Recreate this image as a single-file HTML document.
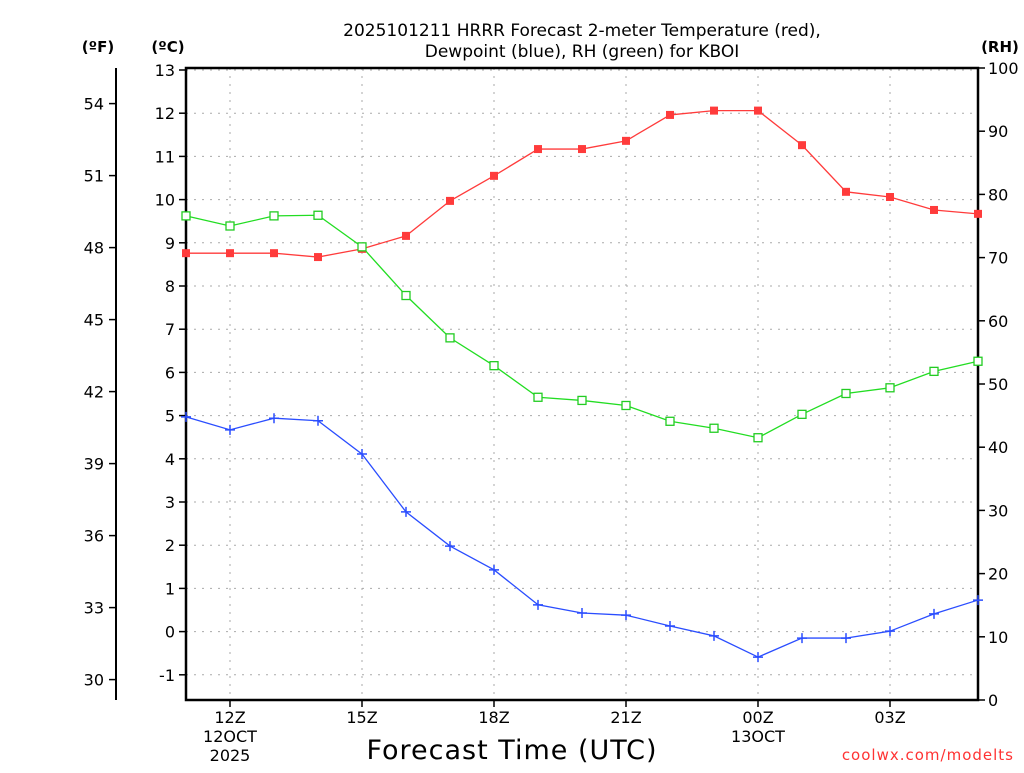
<!DOCTYPE html>
<html><head><meta charset="utf-8"><style>
body{margin:0;background:#fff;}
svg text{font-family:"DejaVu Sans","Liberation Sans",sans-serif;}
</style></head><body>
<svg width="1024" height="768" viewBox="0 0 1024 768" xmlns="http://www.w3.org/2000/svg">
<g id="grid"></g>
<g id="axes"></g>
<g id="series"></g>
<text x="582" y="36" text-anchor="middle" font-size="17">2025101211 HRRR Forecast 2-meter Temperature (red),</text>
<text x="582" y="57" text-anchor="middle" font-size="17">Dewpoint (blue), RH (green) for KBOI</text>
<text x="98" y="52" text-anchor="middle" font-size="15" font-weight="bold">(ºF)</text>
<text x="168" y="52" text-anchor="middle" font-size="15" font-weight="bold">(ºC)</text>
<text x="1000" y="52" text-anchor="middle" font-size="15" font-weight="bold">(RH)</text>
<text x="512" y="759" text-anchor="middle" font-size="27" letter-spacing="1">Forecast Time (UTC)</text>
<text x="1014" y="760" text-anchor="end" font-size="15" fill="#ff3333" letter-spacing="1">coolwx.com/modelts</text>
</svg>
<script>
const hours=[11,12,13,14,15,16,17,18,19,20,21,22,23,24,25,26,27,28,29];
const tempC=[8.76,8.76,8.76,8.67,8.86,9.16,9.97,10.55,11.17,11.17,11.36,11.96,12.06,12.06,11.26,10.18,10.06,9.76,9.67];
const dewC=[4.97,4.67,4.94,4.88,4.11,2.77,1.98,1.43,0.62,0.43,0.38,0.13,-0.1,-0.59,-0.15,-0.15,0.01,0.41,0.73];
const rh=[76.6,75.0,76.6,76.7,71.7,64.0,57.3,52.9,47.9,47.4,46.6,44.1,43.0,41.5,45.2,48.5,49.4,52.0,53.6];
const cTicks=[-1,0,1,2,3,4,5,6,7,8,9,10,11,12,13];
const fTicks=[30,33,36,39,42,45,48,51,54];
const rhTicks=[0,10,20,30,40,50,60,70,80,90,100];
const xTickHours=[12,15,18,21,24,27];
const xTickLabels=["12Z","15Z","18Z","21Z","00Z","03Z"];
const xSub1={12:"12OCT",24:"13OCT"};
const xSub2={12:"2025"};

const NS="http://www.w3.org/2000/svg";
const L=186,R=978,T=68,B=700;
const xs=h=>L+(h-11)*(R-L)/18;
const yc=c=>70+(13-c)*43.2;
const yf=f=>yc((f-32)/1.8);
const yr=r=>B-r*(B-T)/100;
function mk(tag,attrs,parent){const e=document.createElementNS(NS,tag);for(const k in attrs)e.setAttribute(k,attrs[k]);parent.appendChild(e);return e;}
const grid=document.getElementById('grid'),axes=document.getElementById('axes'),ser=document.getElementById('series');
cTicks.forEach(c=>{
  const g=mk('line',{x1:L,x2:R,y1:yc(c),y2:yc(c),stroke:'#aaa','stroke-dasharray':'2,6'},grid);
  
  
  mk('line',{x1:L-7,x2:L,y1:yc(c),y2:yc(c),stroke:'#000','stroke-width':1.5},axes);
  const t=mk('text',{x:L-11,y:yc(c)+6,'text-anchor':'end','font-size':16},axes);t.textContent=c;
  
  
});
xTickHours.forEach((h,i)=>{
  const g=mk('line',{x1:xs(h),x2:xs(h),y1:T,y2:B,stroke:'#aaa','stroke-dasharray':'2,6'},grid);
  
  
  mk('line',{x1:xs(h),x2:xs(h),y1:B,y2:B+7,stroke:'#000','stroke-width':1.5},axes);
  const t=mk('text',{x:xs(h),y:B+23,'text-anchor':'middle','font-size':16},axes);t.textContent=xTickLabels[i];
  
  
  if(xSub1[h]){const s=mk('text',{x:xs(h),y:B+42,'text-anchor':'middle','font-size':16},axes);s.textContent=xSub1[h];
    
    }
  if(xSub2[h]){const s=mk('text',{x:xs(h),y:B+61,'text-anchor':'middle','font-size':16},axes);s.textContent=xSub2[h];
    
    }
});
mk('rect',{x:L,y:T,width:R-L,height:B-T,fill:'none',stroke:'#000','stroke-width':2.5},axes);
mk('line',{x1:116,x2:116,y1:T,y2:B,stroke:'#000','stroke-width':2},axes);
fTicks.forEach(f=>{
  mk('line',{x1:109,x2:116,y1:yf(f),y2:yf(f),stroke:'#000','stroke-width':1.5},axes);
  const t=mk('text',{x:104,y:yf(f)+6,'text-anchor':'end','font-size':16},axes);t.textContent=f;
  
  
});
rhTicks.forEach(r=>{
  mk('line',{x1:R,x2:R+7,y1:yr(r),y2:yr(r),stroke:'#000','stroke-width':1.5},axes);
  const t=mk('text',{x:988,y:yr(r)+6,'text-anchor':'start','font-size':16},axes);t.textContent=r;
  
  
});
function line(vals,yfn,color,name){
  const p=mk('polyline',{points:vals.map((v,i)=>xs(hours[i])+','+yfn(v)).join(' '),fill:'none',stroke:color,'stroke-width':1.3},ser);
  
  
}
line(tempC,yc,'#ff3b3b','temperature-line');
line(dewC,yc,'#2a4dff','dewpoint-line');
line(rh,yr,'#22dd22','rh-line');
tempC.forEach((v,i)=>{const m=mk('rect',{x:xs(hours[i])-4,y:yc(v)-4,width:8,height:8,fill:'#ff3b3b'},ser);
  
  });
dewC.forEach((v,i)=>{const x=xs(hours[i]),y=yc(v);const m=mk('path',{d:`M${x-5} ${y}H${x+5}M${x} ${y-5}V${y+5}`,stroke:'#2a4dff','stroke-width':1.5},ser);
  
  });
rh.forEach((v,i)=>{const m=mk('rect',{x:xs(hours[i])-4,y:yr(v)-4,width:8,height:8,fill:'#fff',stroke:'#22cc22','stroke-width':1.3},ser);
  
  });
</script>
</body></html>
